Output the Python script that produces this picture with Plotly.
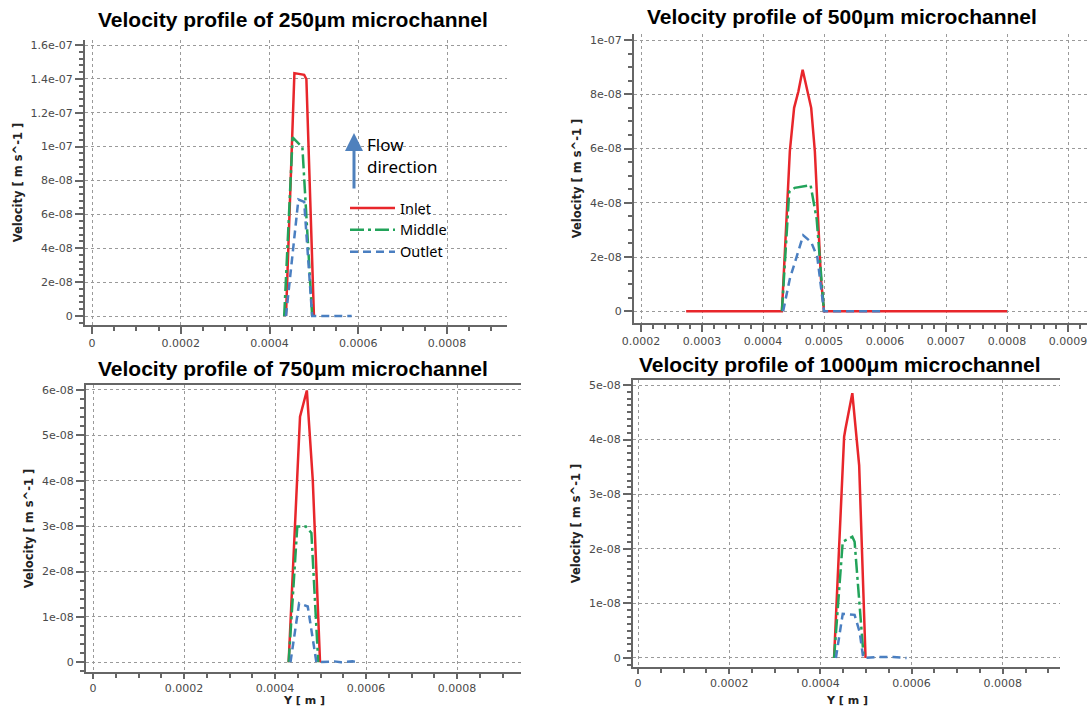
import plotly.graph_objects as go

W, H = 1089, 708

# ---------------- data ----------------
# 250 um microchannel
y250_inlet = [0.000437, 0.000456, 0.000478, 0.000483, 0.000500]
v250_inlet = [0, 1.434e-7, 1.424e-7, 1.398e-7, 0]
y250_middle = [0.000433, 0.000452, 0.000474, 0.000496]
v250_middle = [0, 1.055e-7, 0.996e-7, 0]
y250_outlet = [0.000437, 0.000465, 0.000478, 0.000493, 0.000496, 0.000585]
v250_outlet = [0, 6.88e-8, 6.74e-8, 1.3e-8, 0, 0]

# 500 um microchannel
y500_inlet = [0.000274, 0.000431, 0.000437, 0.000444, 0.000451, 0.000458, 0.000465,
              0.000472, 0.000479, 0.000485, 0.000490, 0.000495, 0.000500, 0.000800]
v500_inlet = [0, 0, 2.7e-8, 5.9e-8, 7.5e-8, 8.1e-8, 8.9e-8,
              8.2e-8, 7.5e-8, 5.9e-8, 3.5e-8, 1.2e-8, 0, 0]
y500_middle = [0.000431, 0.000443, 0.000452, 0.000465, 0.000478, 0.000488, 0.000500]
v500_middle = [0, 4.4e-8, 4.55e-8, 4.6e-8, 4.65e-8, 3.4e-8, 0]
y500_outlet = [0.000433, 0.000444, 0.000455, 0.000466, 0.000479, 0.000489, 0.000500, 0.000596]
v500_outlet = [0, 1.2e-8, 2.0e-8, 2.8e-8, 2.55e-8, 2.0e-8, 0, 0]

# 750 um microchannel
y750_inlet = [0.000430, 0.000453, 0.000455, 0.000470, 0.000483, 0.000499]
v750_inlet = [0, 5.19e-8, 5.41e-8, 5.99e-8, 4.02e-8, 0]
y750_middle = [0.000430, 0.000449, 0.000468, 0.000480, 0.000495]
v750_middle = [0, 2.99e-8, 2.99e-8, 2.85e-8, 0]
y750_outlet = [0.000434, 0.000453, 0.000472, 0.000491, 0.000530, 0.000545, 0.000570, 0.000582]
v750_outlet = [0, 1.3e-8, 1.23e-8, 0, 2e-10, 0, 2e-10, 0]

# 1000 um microchannel
y1000_inlet = [0.000430, 0.000452, 0.000455, 0.000470, 0.000485, 0.000499]
v1000_inlet = [0, 4.05e-8, 4.2e-8, 4.85e-8, 3.53e-8, 0]
y1000_middle = [0.000430, 0.000449, 0.000470, 0.000475, 0.000495]
v1000_middle = [0, 2.13e-8, 2.22e-8, 2.13e-8, 0]
y1000_outlet = [0.000434, 0.000449, 0.000475, 0.000486, 0.000494, 0.000530, 0.000560, 0.000589]
v1000_outlet = [0, 8.1e-9, 7.9e-9, 4.8e-9, 0, 2e-10, 2e-10, 0]

titles = ["Velocity profile of 250\u03bcm microchannel",
          "Velocity profile of 500\u03bcm microchannel",
          "Velocity profile of 750\u03bcm microchannel",
          "Velocity profile of 1000\u03bcm microchannel"]
series_names = ["Inlet", "Middle", "Outlet"]

xt_main = [0, 0.0002, 0.0004, 0.0006, 0.0008]
xt_main_text = ["0", "0.0002", "0.0004", "0.0006", "0.0008"]
xt_500 = [0.0002, 0.0003, 0.0004, 0.0005, 0.0006, 0.0007, 0.0008, 0.0009]
xt_500_text = ["0.0002", "0.0003", "0.0004", "0.0005", "0.0006", "0.0007", "0.0008", "0.0009"]

yt_250 = [0, 2e-8, 4e-8, 6e-8, 8e-8, 1e-7, 1.2e-7, 1.4e-7, 1.6e-7]
yt_250_text = ["0", "2e-08", "4e-08", "6e-08", "8e-08", "1e-07", "1.2e-07", "1.4e-07", "1.6e-07"]
yt_500 = [0, 2e-8, 4e-8, 6e-8, 8e-8, 1e-7]
yt_500_text = ["0", "2e-08", "4e-08", "6e-08", "8e-08", "1e-07"]
yt_750 = [0, 1e-8, 2e-8, 3e-8, 4e-8, 5e-8, 6e-8]
yt_750_text = ["0", "1e-08", "2e-08", "3e-08", "4e-08", "5e-08", "6e-08"]
yt_1000 = [0, 1e-8, 2e-8, 3e-8, 4e-8, 5e-8]
yt_1000_text = ["0", "1e-08", "2e-08", "3e-08", "4e-08", "5e-08"]

# ---------------- styling ----------------
COLORS = {"Inlet": "#e8262b", "Middle": "#22a35a", "Outlet": "#4a7fc1"}
DASHES = {"Inlet": "solid", "Middle": "14px,4px,3px,4px", "Outlet": "8px,5px"}
TICK_FONT = dict(family="DejaVu Sans", size=11, color="#4a4a4a")
AX_TITLE_FONT = dict(family="DejaVu Sans", size=11.5, color="#222222")
XT_TITLE_FONT = dict(family="DejaVu Sans", size=11, color="#222222")
TITLE_FONT = dict(family="Liberation Sans", size=21, color="black")
AXCOL = "#666666"
GRIDCOL = "#9a9a9a"


def px_x(p):
    return p / W


def px_y(p):
    return 1 - p / H


panels = [
    dict(data=[(y250_inlet, v250_inlet), (y250_middle, v250_middle), (y250_outlet, v250_outlet)],
         xd=(85, 507), yd=(40, 325), xr=(-1.58e-5, 0.000935), yr=(-5.31e-9, 1.6295e-7),
         xt=(xt_main, xt_main_text), yt=(yt_250, yt_250_text), mdx=0.00005, mdy=4e-9,
         mirror=False, xtitle="", tpos=(293, 20), ystand=6, xtl=7),
    dict(data=[(y500_inlet, v500_inlet), (y500_middle, v500_middle), (y500_outlet, v500_outlet)],
         xd=(634, 1087), yd=(34, 323), xr=(0.00018852, 0.00093115), yr=(-4.32e-9, 1.0221e-7),
         xt=(xt_500, xt_500_text), yt=(yt_500, yt_500_text), mdx=0.00002, mdy=5e-9,
         mirror=False, xtitle="", tpos=(842, 17), ystand=6, xtl=7),
    dict(data=[(y750_inlet, v750_inlet), (y750_middle, v750_middle), (y750_outlet, v750_outlet)],
         xd=(86, 521), yd=(385, 672), xr=(-1.538e-5, 0.00094066), yr=(-2.14e-9, 6.110e-8),
         xt=(xt_main, xt_main_text), yt=(yt_750, yt_750_text), mdx=0.00005, mdy=2e-9,
         mirror=True, xtitle="Y [ m ]", tpos=(293, 368), ystand=6, xtl=5),
    dict(data=[(y1000_inlet, v1000_inlet), (y1000_middle, v1000_middle), (y1000_outlet, v1000_outlet)],
         xd=(633, 1060), yd=(380, 667), xr=(-1.096e-5, 0.00092544), yr=(-1.65e-9, 5.0916e-8),
         xt=(xt_main, xt_main_text), yt=(yt_1000, yt_1000_text), mdx=0.00005, mdy=1.25e-9,
         mirror=True, xtitle="Y [ m ]", tpos=(839, 364), ystand=6, xtl=5),
]

fig = go.Figure()
layout = dict(
    width=W, height=H,
    margin=dict(l=0, r=0, t=0, b=0, autoexpand=False),
    paper_bgcolor="white", plot_bgcolor="white",
    showlegend=True,
    legend=dict(x=px_x(345), y=px_y(192), xanchor="left", yanchor="top",
                bgcolor="rgba(0,0,0,0)", borderwidth=0,
                font=dict(family="Noto Sans", size=14.5, color="black"),
                itemwidth=45, tracegroupgap=0),
)
annotations = []

for i, p in enumerate(panels):
    sfx = "" if i == 0 else str(i + 1)
    xa, ya = "x" + sfx, "y" + sfx
    for name, (xs, vs) in zip(series_names, p["data"]):
        fig.add_trace(go.Scatter(
            x=xs, y=vs, mode="lines", name=name,
            line=dict(color=COLORS[name], width=2.5, dash=DASHES[name]),
            xaxis=xa, yaxis=ya, showlegend=(i == 0), legendgroup=name,
        ))
    xaxis = dict(
        domain=[px_x(p["xd"][0]), px_x(p["xd"][1])], range=list(p["xr"]),
        anchor=ya, automargin=False,
        tickmode="array", tickvals=p["xt"][0], ticktext=p["xt"][1],
        ticks="outside", ticklen=p["xtl"], tickwidth=1.5, tickcolor=AXCOL,
        showline=True, linecolor=AXCOL, linewidth=2, mirror=p["mirror"],
        showgrid=True, gridcolor=GRIDCOL, gridwidth=1, griddash="dot",
        zeroline=False, tickfont=TICK_FONT,
        minor=dict(ticks="outside", ticklen=min(4, p["xtl"] - 1), tickwidth=1.5, tickcolor=AXCOL,
                   tick0=0, dtick=p["mdx"], showgrid=False),
    )
    yaxis = dict(
        domain=[px_y(p["yd"][1]), px_y(p["yd"][0])], range=list(p["yr"]),
        anchor=xa, automargin=False,
        tickmode="array", tickvals=p["yt"][0], ticktext=p["yt"][1],
        ticks="outside", ticklen=8, tickwidth=1.5, tickcolor=AXCOL,
        showline=True, linecolor=AXCOL, linewidth=2,
        showgrid=True, gridcolor=GRIDCOL, gridwidth=1, griddash="dot",
        zeroline=False, tickfont=TICK_FONT,
        minor=dict(ticks="outside", ticklen=4, tickwidth=1.5, tickcolor=AXCOL,
                   tick0=0, dtick=p["mdy"], showgrid=False),
        title=dict(text="<b>Velocity [ m s^-1 ]</b>", font=AX_TITLE_FONT, standoff=p["ystand"]),
    )
    layout["xaxis" + sfx] = xaxis
    layout["yaxis" + sfx] = yaxis
    annotations.append(dict(
        text="<b>" + titles[i] + "</b>", x=px_x(p["tpos"][0]), y=px_y(p["tpos"][1]),
        xref="paper", yref="paper", xanchor="center", yanchor="middle",
        showarrow=False, font=TITLE_FONT))
    if p["xtitle"]:
        # x-axis title, centred under the panel's x domain, sitting on the bottom edge
        annotations.append(dict(
            text="<b>" + p["xtitle"] + "</b>",
            x=(px_x(p["xd"][0]) + px_x(p["xd"][1])) / 2, y=0,
            xref="paper", yref="paper", xanchor="center", yanchor="bottom",
            borderpad=0, showarrow=False, font=XT_TITLE_FONT))

# flow direction arrow and label (panel 1)
annotations.append(dict(
    text="", x=px_x(354), y=px_y(133), xref="paper", yref="paper",
    showarrow=True, ax=0, ay=57, arrowhead=2, arrowsize=1.2, arrowwidth=3,
    arrowcolor="#4f81bd", standoff=0))
annotations.append(dict(
    text="Flow<br>direction", x=px_x(365), y=px_y(156), xref="paper", yref="paper",
    xanchor="left", yanchor="middle", align="left", showarrow=False,
    font=dict(family="Noto Sans", size=17, color="black")))

layout["annotations"] = annotations
fig.update_layout(**layout)
# remove the browser's default 8px page margin so the figure fills the window exactly
fig.write_html("out.html", config={"displayModeBar": False},
               post_script="document.body.style.margin='0';document.body.style.overflow='hidden';")
